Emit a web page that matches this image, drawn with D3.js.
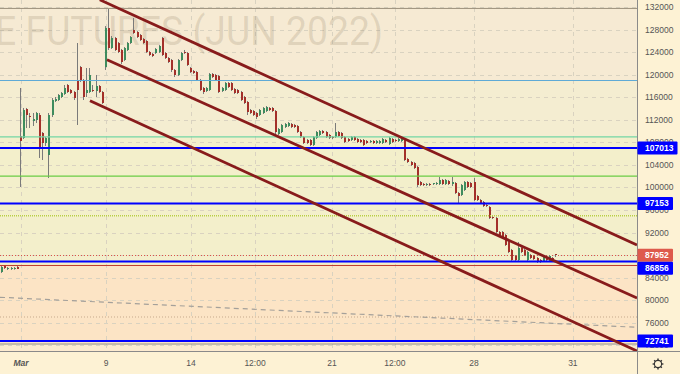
<!DOCTYPE html>
<html>
<head>
<meta charset="utf-8">
<script src="https://cdn.jsdelivr.net/npm/d3@7"></script>
<style>
  body { margin: 0; background: #fdf2d4; }
  svg { display: block; font-family: "Liberation Sans", Arial, sans-serif; }
</style>
</head>
<body>
<div id="chart"></div>
<script>

// ---- data ----

// bars before the trading gap, [open, high, low, close]
var preGap = [
    [84990, 86060, 84810, 85880], [86060, 86230, 85520, 85700], [85520, 85880, 85350, 85700],
    [85520, 85880, 85350, 85750], [85560, 85880, 85400, 85720], [85880, 86060, 85520, 85610]
];

// bars from 1 March onwards, [open, high, low, close]
var bars = [
    [109140,117670,100090,108260],[108790,114120,108610,113760],[113940,114120,110560,112870],
    [112700,113230,110560,112520],[111810,113230,110920,112160],[111990,113410,111450,113230],
    [112870,113230,105240,107010],[109680,109850,104880,107900],[107900,108970,107370,108790],
    [105770,113230,101680,112870],[112870,115890,112520,115540],[115360,116070,115180,115720],
    [115540,116600,115360,116430],[116070,116960,115890,116780],[116600,118200,116430,117670],
    [118200,118380,116780,116960],[117310,117490,116600,116780],[116960,117140,115540,115890],
    [119090,125660,111100,117310],[121400,121580,118730,119090],[119090,119270,115540,116070],
    [116780,121220,116070,117310],[116960,121220,116780,119980],[117310,118200,116960,117140],
    [117140,119980,116070,118020],[118020,118200,116780,116960],[116960,117140,114830,115000],
    [121400,128670,120870,128320],[128320,131700,124420,124770],[124770,126900,124600,126550],
    [126550,126730,124240,124420],[125660,125840,123880,124060],[124420,124600,121930,122290],
    [122640,124950,122460,124770],[124420,125840,124240,125660],[125660,126900,125480,126730],
    [127970,130100,127260,127440],[127610,127790,126550,126730],[127080,127260,126020,126190],
    [126370,126550,125480,125660],[126020,126190,123880,124060],[124060,124240,123350,123530],
    [123710,123880,123170,123350],[123880,124770,123710,124600],[124060,125310,123880,125130],
    [126550,126730,123350,123530],[123880,124060,122820,123000],[123000,123170,122110,122290],
    [122640,122820,120510,120870],[120870,121040,119620,119980],[119980,122820,119800,122640],
    [122640,124060,122460,123880],[124060,124420,123710,123880],[123880,124060,121580,121750],
    [121220,121400,120330,120510],[120690,120870,120160,120330],[120510,120690,118910,119090],
    [119090,119270,117140,117310],[117670,117850,116600,116960],[117140,117850,116960,117670],
    [117310,120330,117140,120160],[120160,120330,119440,119620],[119980,120160,118910,119090],
    [119800,119980,116780,116960],[117140,117850,116960,117670],[117310,118730,117140,118560],
    [118560,118730,117670,117850],[118560,118730,117140,117310],[117490,117670,116600,116780],
    [117310,117490,116600,116780],[116960,117140,115360,115540],[116070,116250,114830,115000],
    [115180,115360,112870,113410],[113760,113940,113050,113230],[113580,113760,112700,112870],
    [113230,113410,112160,112520],[112870,113940,112700,113760],[113230,114290,113050,114120],
    [113580,114470,113410,114290],[114120,114290,113580,113760],[114120,114290,113410,113580],
    [113580,113760,109500,109850],[109500,110560,109320,110390],[109850,111280,109680,111100],
    [110740,111450,110560,111280],[110920,111630,110740,111450],[111280,111450,110560,110740],
    [111100,111280,110560,110740],[110920,111100,109680,109850],[109850,110030,108790,108970],
    [108970,109140,107720,107900],[108430,108610,107720,107900],[108430,108610,107370,107550],
    [107550,109140,107370,108970],[108790,110030,108610,109850],[109320,110210,109140,110030],
    [110030,110210,109500,109680],[109850,110030,108790,108970],[109320,109500,108610,108790],
    [108900,109140,108610,108790],[108970,111450,108790,109850],[109850,110030,108970,109140],
    [109680,109850,108610,108790],[108970,109140,107900,108080],[108610,108790,108080,108260],
    [108430,109140,108260,108970],[108970,109140,108260,108430],[108610,108790,107900,108080],
    [108430,108610,107900,108080],[108430,108610,107370,107550],[108260,108430,107720,107900],
    [108080,108430,107900,108260],[108260,108430,107720,107900],[107900,108430,107720,108260],
    [107900,108430,107720,108260],[107900,108790,107720,108610],[108430,108610,107900,108080],
    [107720,108970,107550,108790],[108610,108790,107900,108080],[108430,108610,108080,108260],
    [108260,108790,108080,108610],[108260,108970,108080,108790],[108610,108790,104700,104880],
    [105060,105240,104350,104530],[104530,104700,103820,103990],[104350,104530,103280,103460],
    [103640,103820,100090,100440],[100970,101150,100260,100440],[100620,100800,100260,100440],
    [100440,100800,100260,100620],[100620,100800,100260,100440],[100620,100800,100440,100710],
    [100620,100970,100440,100800],[100620,101860,100440,101330],[101330,101510,100440,100620],
    [100620,101510,100440,101330],[101150,101330,100440,100620],[100620,101860,100260,100970],
    [100800,100970,98840,99020],[99020,99200,97240,98490],[98670,100620,98490,100440],
    [99550,101150,99380,100970],[100970,101150,99910,100090],[100800,100970,99910,100090],
    [100970,101680,97600,97780],[98490,98670,97600,97780],[97780,97960,97070,97240],
    [97420,97600,96530,96710],[96890,97070,96530,96710],[96530,96710,94400,94580],
    [94760,94940,94400,94580],[94580,94760,91920,92090],[92090,92270,91380,91560],
    [92090,92270,91030,91210],[91560,91740,89610,89790],[90320,90500,88360,88540],
    [88900,89080,86770,87120],[87830,88010,86940,87120],[87120,90320,86940,89250],
    [89250,89430,88360,88540],[88900,89080,87830,88010],[87120,88720,86940,88540],
    [88010,88190,87300,87480],[87830,88010,87120,87300],[87480,87650,86590,86770],
    [87120,87300,86590,86770],[86940,87830,86770,87650],[87300,87480,86940,87120],
    [86940,88010,86770,87830],[87480,87650,87300,87390],[88150,88190,87650,87952]
];

var lastPrice = 87952;

// horizontal levels drawn on the chart
var levelValues = [131800, 119000, 109000, 107013, 102000, 97153, 95000, 86856, 86150, 77000, 72741, 72200];

// prices that carry a tag on the right scale
var tagValues = [107013, 97153, 87952, 86856, 72741];

// background band limits (price)
var bandBreaks = [133300, 119000, 109000, 86150, 72200, 70900];

// channel lines: [bar index, price] start and end
var channelLines = [
    [[25.0, 133330], [195.56, 89790]],
    [[27.3, 122700], [195.56, 80370]],
    [[21.9, 115410], [195.56, 70960]]
];
var slopeLine = [[-6.67, 80500], [195.56, 75170]];

// time axis: bar index of each tick and its label
var xTickIdx = [0, 27, 54, 74.3, 98.7, 118.7, 143.8, 175.2];
var xTickLabels = ["Mar", "9", "14", "12:00", "21", "12:00", "28", "31"];

var yTicks = d3.range(72000, 132001, 4000);

// ---- layout ----
var W = 680, H = 374;
var plotW = 637, plotH = 351;

var svg = d3.select("#chart").append("svg")
    .attr("width", W)
    .attr("height", H);

svg.append("rect").attr("width", W).attr("height", H).attr("fill", "#fdf2d4");

var x = d3.scaleLinear().domain([-6.67, 195.56]).range([0, plotW]);
var y = d3.scaleLinear().domain([70960, 133297]).range([plotH, 0]);

svg.append("clipPath").attr("id", "clip")
    .append("rect").attr("width", plotW).attr("height", plotH);

var plot = svg.append("g").attr("clip-path", "url(#clip)");

// background bands
var bandColors = ["#f6ead3", "#f4edd1", "#f3efcb", "#fce4c5", "#fcebd0"];
plot.selectAll("rect.band")
    .data(d3.range(bandBreaks.length - 1))
    .join("rect")
    .attr("class", "band")
    .attr("x", 0)
    .attr("width", plotW)
    .attr("y", function (i) { return y(bandBreaks[i]); })
    .attr("height", function (i) { return y(bandBreaks[i + 1]) - y(bandBreaks[i]); })
    .attr("fill", function (i) { return bandColors[i]; });

// grid
plot.selectAll("line.hgrid")
    .data(yTicks)
    .join("line")
    .attr("x1", 0).attr("x2", plotW)
    .attr("y1", function (d) { return Math.round(y(d)) + 0.5; })
    .attr("y2", function (d) { return Math.round(y(d)) + 0.5; })
    .attr("stroke", "#d9d2c0")
    .attr("stroke-dasharray", "4,4");

plot.selectAll("line.vgrid")
    .data(xTickIdx)
    .join("line")
    .attr("y1", 0).attr("y2", plotH)
    .attr("x1", function (d) { return Math.round(x(d)) + 0.5; })
    .attr("x2", function (d) { return Math.round(x(d)) + 0.5; })
    .attr("stroke", "#d9d2c0")
    .attr("stroke-dasharray", "4,4");

// watermark (its left end runs off the chart, as in the original)
plot.append("text")
    .attr("x", -5)
    .attr("y", 45)
    .attr("font-family", "Roboto, 'Liberation Sans', sans-serif")
    .attr("font-size", 40)
    .attr("textLength", 388)
    .attr("lengthAdjust", "spacingAndGlyphs")
    .attr("fill", "rgba(110, 90, 60, 0.17)")
    .text("E FUTURES (JUN 2022)");

// last price line
plot.append("line")
    .attr("x1", 0).attr("x2", plotW)
    .attr("y1", Math.round(y(lastPrice)) + 0.5)
    .attr("y2", Math.round(y(lastPrice)) + 0.5)
    .attr("stroke", "#d9544a")
    .attr("stroke-dasharray", "1,2");

// candles
var allBars = preGap.map(function (d, i) { return { i: i - preGap.length, o: d[0], h: d[1], l: d[2], c: d[3] }; })
    .concat(bars.map(function (d, i) { return { i: i, o: d[0], h: d[1], l: d[2], c: d[3] }; }));

var candles = plot.selectAll("g.candle")
    .data(allBars)
    .join("g")
    .attr("class", "candle");

candles.append("rect")
    .attr("x", function (d) { return Math.round(x(d.i)) - 1; })
    .attr("width", 1)
    .attr("y", function (d) { return y(d.h); })
    .attr("height", function (d) { return Math.max(1, y(d.l) - y(d.h)); })
    .attr("fill", "#7a7a7a");

candles.append("rect")
    .attr("x", function (d) { return Math.round(x(d.i)) - 1; })
    .attr("width", 2)
    .attr("y", function (d) { return y(Math.max(d.o, d.c)); })
    .attr("height", function (d) { return Math.max(1, Math.abs(y(d.o) - y(d.c))); })
    .attr("fill", function (d) { return d.c >= d.o ? "#3e8c5e" : "#a3302a"; })
    .attr("shape-rendering", "crispEdges");

// horizontal levels
var levelStyle = [
    { c: "#9c907c", w: 1 },
    { c: "#5eaad6", w: 1 },
    { c: "#72d6a6", w: 1.2 },
    { c: "#0000ff", w: 2 },
    { c: "#6acd45", w: 1.2 },
    { c: "#0000ff", w: 2 },
    { c: "#b9cf44", w: 1.5, dash: "1,1" },
    { c: "#0000ff", w: 2 },
    { c: "#c0392b", w: 1 },
    { c: "#c6a98c", w: 1, dash: "1,2" },
    { c: "#0000ff", w: 2 },
    { c: "#8e8e8e", w: 1 }
];

plot.selectAll("line.level")
    .data(levelValues)
    .join("line")
    .attr("class", "level")
    .attr("x1", 0).attr("x2", plotW)
    .attr("y1", function (d) { return y(d); })
    .attr("y2", function (d) { return y(d); })
    .attr("stroke", function (d, i) { return levelStyle[i].c; })
    .attr("stroke-width", function (d, i) { return levelStyle[i].w; })
    .attr("stroke-dasharray", function (d, i) { return levelStyle[i].dash || null; });

// sloping dashed line
plot.append("line")
    .attr("x1", x(slopeLine[0][0])).attr("y1", y(slopeLine[0][1]))
    .attr("x2", x(slopeLine[1][0])).attr("y2", y(slopeLine[1][1]))
    .attr("stroke", "#a4a09a")
    .attr("stroke-width", 1.2)
    .attr("stroke-dasharray", "5,4");

// channel
plot.selectAll("line.channel")
    .data(channelLines)
    .join("line")
    .attr("class", "channel")
    .attr("x1", function (d) { return x(d[0][0]); })
    .attr("y1", function (d) { return y(d[0][1]); })
    .attr("x2", function (d) { return x(d[1][0]); })
    .attr("y2", function (d) { return y(d[1][1]); })
    .attr("stroke", "#881b1b")
    .attr("stroke-width", 2.8)
    .attr("stroke-linecap", "butt");

// ---- axes ----
var fmt = d3.format("d");

svg.selectAll("text.ylab")
    .data(yTicks)
    .join("text")
    .attr("class", "ylab")
    .attr("x", 645)
    .attr("y", function (d) { return y(d); })
    .attr("dy", "0.35em")
    .attr("font-size", 8.5)
    .attr("fill", "#555")
    .text(fmt);

svg.selectAll("text.xlab")
    .data(xTickIdx)
    .join("text")
    .attr("class", "xlab")
    .attr("x", function (d) { return x(d); })
    .attr("y", 366)
    .attr("text-anchor", "middle")
    .attr("font-size", 8.5)
    .attr("font-weight", function (d, i) { return i === 0 ? "bold" : null; })
    .attr("font-style", function (d, i) { return i === 0 ? "italic" : null; })
    .attr("fill", "#555")
    .text(function (d, i) { return xTickLabels[i]; });

// borders
svg.append("line")
    .attr("x1", plotW + 0.5).attr("x2", plotW + 0.5)
    .attr("y1", 0).attr("y2", H)
    .attr("stroke", "#8a8a8a");
svg.append("line")
    .attr("x1", 0).attr("x2", W)
    .attr("y1", plotH + 0.5).attr("y2", plotH + 0.5)
    .attr("stroke", "#8a8a8a");

// price tags, pushed apart when they overlap
var tagH = 13;
var tags = tagValues.map(function (v) { return { v: v, cy: y(v) }; })
    .sort(function (a, b) { return a.cy - b.cy; });
tags.forEach(function (t, i) {
    if (i > 0 && t.cy - tags[i - 1].cy < tagH) t.cy = tags[i - 1].cy + tagH;
});

var tagG = svg.selectAll("g.tag")
    .data(tags)
    .join("g")
    .attr("class", "tag");

tagG.append("rect")
    .attr("x", plotW + 0.5)
    .attr("y", function (d) { return d.cy - tagH / 2; })
    .attr("width", function (d) { return String(d.v).length > 5 ? 40 : 35.5; })
    .attr("height", tagH)
    .attr("rx", 1)
    .attr("fill", function (d) { return d.v === lastPrice ? "#de5a4c" : "#0000ff"; });

tagG.append("text")
    .attr("x", 645)
    .attr("y", function (d) { return d.cy; })
    .attr("dy", "0.35em")
    .attr("font-size", 8.5)
    .attr("font-weight", "bold")
    .attr("fill", "#fff")
    .text(function (d) { return fmt(d.v); });

// settings gear
var gear = svg.append("g").attr("transform", "translate(658,364)");
gear.append("circle").attr("r", 3.6).attr("fill", "none").attr("stroke", "#333").attr("stroke-width", 1.1);
gear.selectAll("line")
    .data(d3.range(8))
    .join("line")
    .attr("x1", function (d) { return 3.6 * Math.cos(d * Math.PI / 4); })
    .attr("y1", function (d) { return 3.6 * Math.sin(d * Math.PI / 4); })
    .attr("x2", function (d) { return 5.4 * Math.cos(d * Math.PI / 4); })
    .attr("y2", function (d) { return 5.4 * Math.sin(d * Math.PI / 4); })
    .attr("stroke", "#333")
    .attr("stroke-width", 1.4);

</script>
</body>
</html>
